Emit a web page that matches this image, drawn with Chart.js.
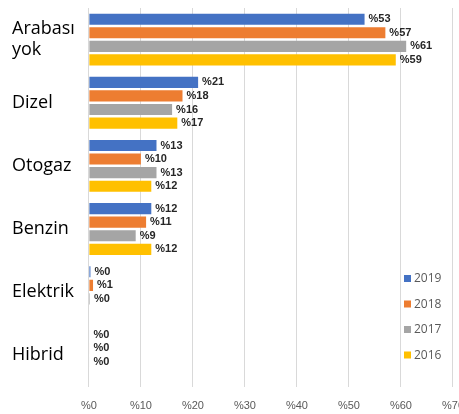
<!DOCTYPE html>
<html>
<head>
<meta charset="utf-8">
<script src="https://cdn.jsdelivr.net/npm/chart.js@4/dist/chart.umd.min.js"></script>
<style>
  html, body { margin: 0; padding: 0; background: #fff; overflow: hidden; }
  #wrap { width: 477px; height: 414px; position: relative; }
</style>
</head>
<body>
<div id="wrap"><canvas id="grafik"></canvas></div>
<script>
// Kategoriler ve yillara gore oranlar (%)
const kategoriler = [['Arabası', 'yok'], 'Dizel', 'Otogaz', 'Benzin', 'Elektrik', 'Hibrid'];
const yillar = ['2019', '2018', '2017', '2016'];
const v2019 = [53, 21, 13, 12, 0.3, 0.1];
const v2018 = [57, 18, 10, 11, 0.8, 0.1];
const v2017 = [61, 16, 13, 9, 0.2, 0.1];
const v2016 = [59, 17, 12, 12, null, null];
const xTicks = [0, 10, 20, 30, 40, 50, 60, 70];

const RENKLER = ['#4472c4', '#ed7d31', '#a5a5a5', '#ffc000'];
const seriler = [v2019, v2018, v2017, v2016];

// Cubuk sonundaki etiketler
const etiketPlugin = {
    id: 'etiketler',
    afterDatasetsDraw(chart) {
        const ctx = chart.ctx;
        ctx.save();
        ctx.font = 'bold 11px "Liberation Sans Narrow", "Liberation Sans", sans-serif';
        ctx.fillStyle = '#262626';
        ctx.textBaseline = 'middle';
        chart.data.datasets.forEach((ds, i) => {
            const meta = chart.getDatasetMeta(i);
            meta.data.forEach((bar, j) => {
                const v = ds.data[j];
                if (v === null || v === undefined) return;
                ctx.fillText('%' + Math.round(v), bar.x + 4, bar.y);
            });
        });
        ctx.restore();
    }
};

// Grafik alanina binen lejant
const lejantPlugin = {
    id: 'lejant',
    afterDraw(chart) {
        const ctx = chart.ctx;
        ctx.save();
        ctx.font = '12px "Open Sans", sans-serif';
        ctx.textBaseline = 'middle';
        yillar.forEach((y, i) => {
            const yy = 279 + i * 25.5;
            ctx.fillStyle = RENKLER[i];
            ctx.fillRect(404, yy - 4, 7, 7);
            ctx.fillStyle = '#595959';
            ctx.fillText(y, 414, yy);
        });
        ctx.restore();
    }
};

new Chart(document.getElementById('grafik'), {
    type: 'bar',
    data: {
        labels: kategoriler,
        datasets: yillar.map((y, i) => ({
            label: y,
            data: seriler[i],
            backgroundColor: RENKLER[i],
            barPercentage: 0.82,
            categoryPercentage: 0.86
        }))
    },
    options: {
        indexAxis: 'y',
        responsive: true,
        maintainAspectRatio: false,
        animation: false,
        layout: { padding: { top: 8, left: 12, right: 0, bottom: -12 } },
        scales: {
            x: {
                min: 0,
                max: 70,
                afterBuildTicks: axis => { axis.ticks = xTicks.map(v => ({ value: v })); },
                ticks: {
                    color: '#595959',
                    font: { size: 11, family: '"Liberation Sans Narrow", "Liberation Sans", sans-serif' },
                    callback: v => '%' + v,
                    maxRotation: 0,
                    padding: 13
                },
                grid: { color: '#d9d9d9', drawTicks: false },
                border: { display: false }
            },
            y: {
                afterFit: s => { s.paddingTop = 0; s.paddingBottom = 0; },
                ticks: {
                    color: '#000',
                    crossAlign: 'far',
                    font: { size: 18, family: '"Open Sans", sans-serif' }
                },
                grid: { display: false },
                border: { display: false }
            }
        },
        plugins: {
            legend: { display: false },
            tooltip: { enabled: false }
        }
    },
    plugins: [etiketPlugin, lejantPlugin]
});
</script>
</body>
</html>
